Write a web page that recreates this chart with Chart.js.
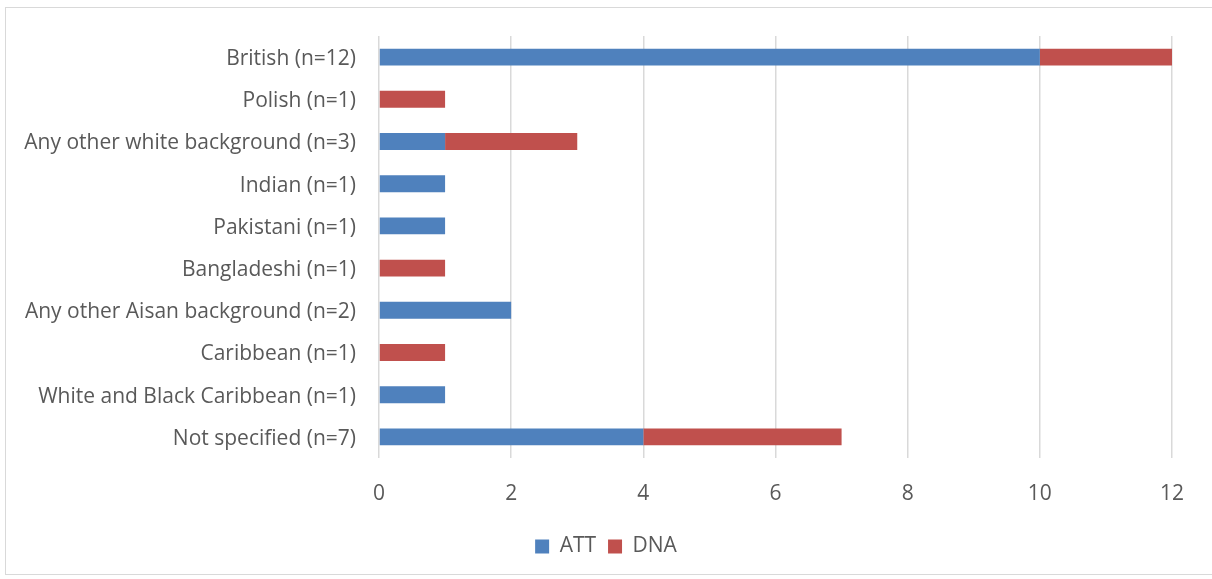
<!DOCTYPE html>
<html>
<head>
<meta charset="utf-8">
<script src="https://cdn.jsdelivr.net/npm/chart.js@4.4.0/dist/chart.umd.min.js"></script>
<style>
  html, body { margin: 0; padding: 0; background: #fff; }
  #wrap { position: relative; width: 1212px; height: 579px; overflow: hidden; }
  #frame { position: absolute; left: 5px; top: 7px; width: 1220px; height: 568px; border: 1px solid #d9d9d9; box-sizing: border-box; }
  canvas { position: absolute; left: 0; top: 0; }
</style>
</head>
<body>
<div id="wrap">
  <div id="frame"></div>
  <canvas id="chart" width="1212" height="579"></canvas>
</div>
<script>
// 民族別の出席(ATT)・欠席(DNA)
const categories = [
  'British (n=12)',
  'Polish (n=1)',
  'Any other white background (n=3)',
  'Indian (n=1)',
  'Pakistani (n=1)',
  'Bangladeshi (n=1)',
  'Any other Aisan background (n=2)',
  'Caribbean (n=1)',
  'White and Black Caribbean (n=1)',
  'Not specified (n=7)'
];
const attValues = [10, 0, 1, 1, 1, 0, 2, 0, 1, 4];
const dnaValues = [2, 1, 2, 0, 0, 1, 0, 1, 0, 3];
const xTicks = [0, 2, 4, 6, 8, 10, 12];

const textColor = '#595959';
const font = { family: "'Open Sans', 'Liberation Sans', sans-serif", size: 21 };

// 凡例をキャンバス全幅の中央に寄せる
const centerLegend = {
  id: 'centerLegend',
  afterLayout(chart) {
    const lg = chart.legend;
    if (!lg) return;
    lg.left = 0;
    lg.right = chart.width;
  }
};

new Chart(document.getElementById('chart'), {
  type: 'bar',
  data: {
    labels: categories,
    datasets: [
      { label: 'ATT', data: attValues, backgroundColor: '#4f81bd' },
      { label: 'DNA', data: dnaValues, backgroundColor: '#c0504d' }
    ]
  },
  plugins: [centerLegend],
  options: {
    indexAxis: 'y',
    responsive: false,
    animation: false,
    layout: { padding: { top: 36, right: 40, bottom: 12, left: 0 } },
    datasets: { bar: { barPercentage: 0.4, categoryPercentage: 1 } },
    scales: {
      x: {
        stacked: true,
        min: 0,
        max: 12,
        afterBuildTicks: s => { s.ticks = xTicks.map(v => ({ value: v })); },
        afterFit: s => { s.height = 66; },
        grid: { color: '#d9d9d9', lineWidth: 1.5, drawTicks: false },
        border: { display: false },
        ticks: { color: textColor, font, padding: 23 }
      },
      y: {
        stacked: true,
        afterFit: s => { s.width = 379; },
        grid: { display: false },
        border: { display: false },
        ticks: { color: textColor, font, padding: 15, labelOffset: 2 }
      }
    },
    plugins: {
      legend: {
        position: 'bottom',
        labels: { color: textColor, font, boxWidth: 14, boxHeight: 14, padding: 12 }
      },
      tooltip: { enabled: false }
    }
  }
});
</script>
</body>
</html>
